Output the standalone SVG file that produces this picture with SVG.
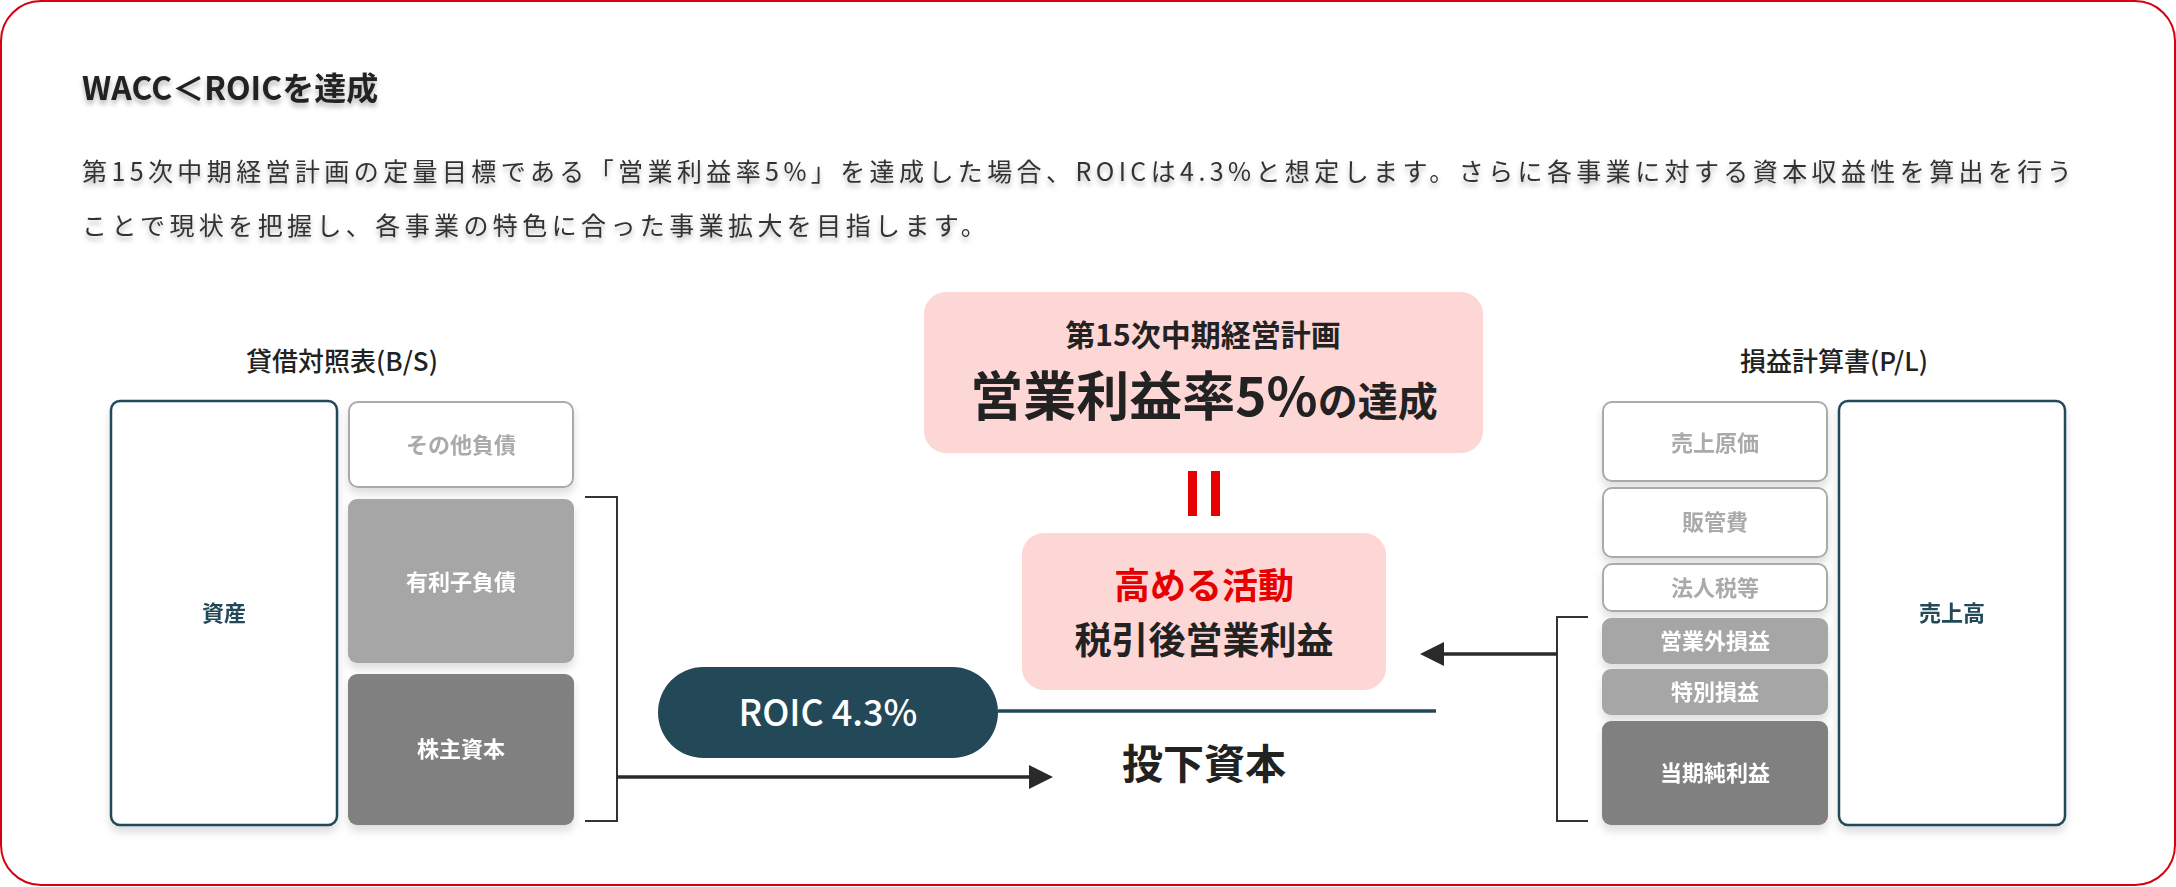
<svg xmlns="http://www.w3.org/2000/svg" width="2176" height="887" viewBox="0 0 2176 887">
<defs>
<filter id="tshadow" x="-5%" y="-30%" width="110%" height="180%">
<feDropShadow dx="0" dy="4" stdDeviation="2.5" flood-color="#000" flood-opacity="0.28"/>
</filter>
<filter id="bshadow" x="-10%" y="-10%" width="120%" height="125%">
<feDropShadow dx="0" dy="6" stdDeviation="4" flood-color="#000" flood-opacity="0.13"/>
</filter>
<marker id="arrow" viewBox="0 0 24 24" refX="0" refY="12" markerWidth="24" markerHeight="24" markerUnits="userSpaceOnUse" orient="auto">
<path d="M0,0 L24,12 L0,24 Z" fill="#2a2a2a"/>
</marker>
</defs>
<style>
text{font-family:"Noto Sans CJK JP","Noto Sans",sans-serif}
.para{font-size:25px;fill:#333;letter-spacing:4.4px;font-weight:400}
.head{font-size:32px;font-weight:700;fill:#222}
.sec{font-size:26px;font-weight:500;fill:#222;text-anchor:middle}
.lbl{font-size:22px;font-weight:700;text-anchor:middle}
.outline{fill:#fff;stroke:#aaaaaa;stroke-width:2}
.outlbl{fill:#aaaaaa}
.mid{fill:#a6a6a6}
.dark{fill:#808080}
.white{fill:#fff}
.main{fill:#fff;stroke:#234858;stroke-width:2.5}
.mainlbl{fill:#234858}
.pink{fill:#fdd6d6}
.bracket{fill:none;stroke:#333;stroke-width:2}
.arrowline{fill:none;stroke:#2a2a2a;stroke-width:3.5}
</style>
<rect x="1" y="1" width="2174" height="884" rx="40" fill="#fff" stroke="#d7000f" stroke-width="2"/>

<g id="heading" filter="url(#tshadow)">
<text class="head" x="82" y="100">WACC＜ROICを達成</text>
<text class="para" x="82" y="181">第15次中期経営計画の定量目標である「営業利益率5%」を達成した場合、ROICは4.3%と想定します。さらに各事業に対する資本収益性を算出を行う</text>
<text class="para" x="82" y="235">ことで現状を把握し、各事業の特色に合った事業拡大を目指します。</text>
</g>

<g id="bs-title"><text class="sec" x="342" y="371">貸借対照表(B/S)</text></g>
<g id="pl-title"><text class="sec" x="1834" y="371">損益計算書(P/L)</text></g>

<g id="bs-boxes" filter="url(#bshadow)">
<g id="shisan"><rect class="main" x="111" y="401" width="226" height="424" rx="9"/><text class="lbl mainlbl" x="224" y="621">資産</text></g>
<g id="sonota-fusai"><rect class="outline" x="349" y="402" width="224" height="85" rx="9"/><text class="lbl outlbl" x="461" y="453">その他負債</text></g>
<g id="yurishi-fusai"><rect class="mid" x="348" y="499" width="226" height="164" rx="9"/><text class="lbl white" x="461" y="590">有利子負債</text></g>
<g id="kabunushi-shihon"><rect class="dark" x="348" y="674" width="226" height="151" rx="9"/><text class="lbl white" x="461" y="757">株主資本</text></g>
</g>

<g id="pl-boxes" filter="url(#bshadow)">
<g id="uriage-genka"><rect class="outline" x="1603" y="402" width="224" height="79" rx="9"/><text class="lbl outlbl" x="1715" y="451">売上原価</text></g>
<g id="hankanhi"><rect class="outline" x="1603" y="488" width="224" height="69" rx="9"/><text class="lbl outlbl" x="1715" y="530">販管費</text></g>
<g id="hojinzei"><rect class="outline" x="1603" y="564" width="224" height="47" rx="9"/><text class="lbl outlbl" x="1715" y="596">法人税等</text></g>
<g id="eigyogai"><rect class="mid" x="1602" y="618" width="226" height="46" rx="9"/><text class="lbl white" x="1715" y="649">営業外損益</text></g>
<g id="tokubetsu"><rect class="mid" x="1602" y="669" width="226" height="46" rx="9"/><text class="lbl white" x="1715" y="700">特別損益</text></g>
<g id="junrieki"><rect class="dark" x="1602" y="721" width="226" height="104" rx="9"/><text class="lbl white" x="1715" y="781">当期純利益</text></g>
<g id="uriagedaka"><rect class="main" x="1839" y="401" width="226" height="424" rx="9"/><text class="lbl mainlbl" x="1952" y="621">売上高</text></g>
</g>

<g id="goal">
<rect class="pink" x="924" y="292" width="559" height="161" rx="22"/>
<text x="1203" y="346" text-anchor="middle" font-size="30" font-weight="700" fill="#222">第15次中期経営計画</text>
<text x="1204" y="416" text-anchor="middle" font-weight="700" fill="#222"><tspan font-size="53">営業利益率5%</tspan><tspan font-size="40">の達成</tspan></text>
</g>

<g id="equals">
<rect x="1188" y="471" width="9" height="45" fill="#e60000"/>
<rect x="1211" y="471" width="9" height="45" fill="#e60000"/>
</g>

<g id="nopat">
<rect class="pink" x="1022" y="533" width="364" height="157" rx="22"/>
<text x="1204" y="599" text-anchor="middle" font-size="36" font-weight="700" fill="#e60000">高める活動</text>
<text x="1204" y="654" text-anchor="middle" font-size="37" font-weight="700" fill="#222">税引後営業利益</text>
</g>

<g id="roic">
<rect x="658" y="667" width="340" height="91" rx="45.5" fill="#234858"/>
<text x="828" y="726" text-anchor="middle" font-size="36" font-weight="500" fill="#fff">ROIC 4.3%</text>
</g>

<g id="invested-capital">
<text x="1204" y="779" text-anchor="middle" font-size="41" font-weight="700" fill="#222">投下資本</text>
</g>

<g id="connectors">
<path class="bracket" d="M585,497 H617 V821 H585"/>
<path class="arrowline" d="M617,777 H1029" marker-end="url(#arrow)"/>
<path class="bracket" d="M1588,617 H1557 V821 H1588"/>
<path class="arrowline" d="M1557,654 H1444" marker-end="url(#arrow)"/>
<path d="M998,711 H1436" fill="none" stroke="#234858" stroke-width="3.5"/>
</g>
</svg>
